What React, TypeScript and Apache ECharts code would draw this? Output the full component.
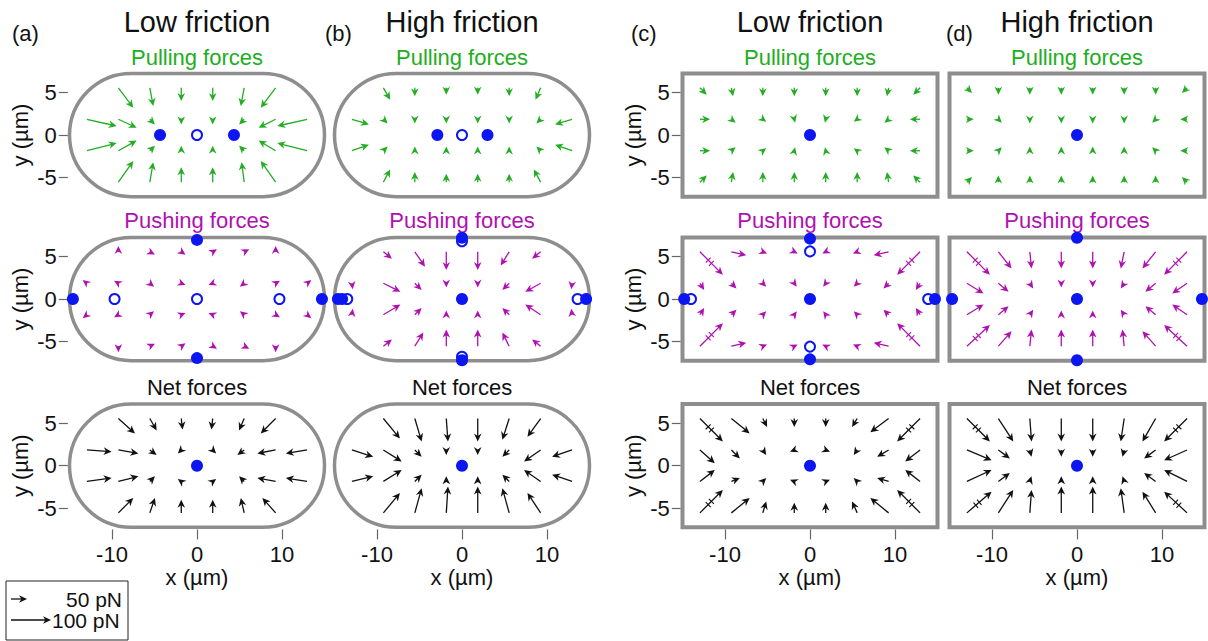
import React, { useEffect, useRef } from "react";
import * as echarts from "echarts";

// ---------- data ----------
const X_RANGE = 15.2;
const Y_RANGE = 7.5;
const CELL_HALF_LEN = 15.0;
const CELL_HALF_WID = 7.25;
const X_TICKS = [-10, 0, 10];
const Y_TICKS = [-5, 0, 5];
const GX8 = [-12.95, -9.25, -5.55, -1.85, 1.85, 5.55, 9.25, 12.95];
const GX6 = [-9.25, -5.55, -1.85, 1.85, 5.55, 9.25];
const GY = [5.55, 1.85, -1.85, -5.55];

const HEADERS = ["Low friction", "High friction", "Low friction", "High friction"];
const LETTERS = ["(a)", "(b)", "(c)", "(d)"];
const ROW_TITLES = ["Pulling forces", "Pushing forces", "Net forces"];

// arrow vectors [u, v, broken] in µm of plot, row-major (top row first)
const A_PULL = [
  [1.75, -2.35], [0.4, -2.15], [0, -1.55], [0, -1.55], [-0.4, -2.15], [-1.75, -2.35],
  [3.5, -0.8], [2.15, -1.0], [0.6, -0.6], [0, -0.6], [0, -0.6], [-0.6, -0.6], [-2.0, -1.0], [-3.5, -0.8],
  [3.5, 0.9], [2.15, 1.2], [0.6, 0.6], [0, 0.6], [0, 0.6], [-0.6, 0.6], [-2.0, 1.2], [-3.5, 0.9],
  [1.75, 2.5], [0.4, 2.35], [0, 1.75], [0, 1.75], [-0.3, 2.35], [-1.75, 2.5],
];
const B_PULL = [
  [0.8, -1.4], [0, -1.0], [0, -0.8], [0, -0.8], [0, -1.0], [-0.6, -1.4],
  [2.0, -0.6], [0.5, -0.5], [0, -0.5], [0, -0.5], [0, -0.5], [0, -0.5], [-0.5, -0.5], [-2.0, -0.6],
  [2.0, 0.7], [0.5, 0.5], [0, 0.5], [0, 0.5], [0, 0.5], [0, 0.5], [-0.5, 0.5], [-2.0, 0.7],
  [0.8, 1.5], [0, 1.2], [0, 1.0], [0, 1.0], [0, 1.0], [-0.8, 1.5],
];
const C_PULL = [
  [0.8, -0.8], [0.2, -1.0], [0, -1.0], [0, -1.0], [0, -1.0], [0, -1.0], [-0.2, -1.0], [-0.8, -0.8],
  [1.2, 0], [0.5, -0.4], [0.4, -0.3], [0.1, -0.4], [-0.1, -0.4], [-0.4, -0.3], [-0.5, -0.4], [-1.2, 0],
  [1.2, 0], [0.5, 0.4], [0.4, 0.3], [0.1, 0.4], [-0.1, 0.4], [-0.4, 0.3], [-0.5, 0.4], [-1.2, 0],
  [0.8, 0.8], [0.2, 1.2], [0, 1.2], [0, 1.2], [0, 1.2], [0, 1.2], [-0.2, 1.2], [-0.8, 0.8],
];
const D_PULL = [
  [0.6, -0.6], [0, -0.8], [0, -0.8], [0, -0.8], [0, -0.8], [0, -0.8], [0, -0.8], [-0.6, -0.6],
  [0.8, 0], [0.4, -0.4], [0, -0.5], [0, -0.5], [0, -0.5], [0, -0.5], [-0.4, -0.4], [-0.8, 0],
  [0.8, 0], [0.4, 0.4], [0, 0.5], [0, 0.5], [0, 0.5], [0, 0.5], [-0.4, 0.4], [-0.8, 0],
  [0.6, 0.6], [0, 0.8], [0, 0.8], [0, 0.8], [0, 0.8], [0, 0.8], [0, 0.8], [-0.6, 0.6],
];
const A_PUSH = [
  [0, 0.7], [0.6, -0.3], [0.5, -0.35], [0.5, 0.3], [0.6, 0.3], [0, 0.7],
  [-0.5, 0.4], [-0.5, 0.3], [0.5, -0.4], [0.5, -0.2], [-0.5, -0.2], [-0.5, -0.4], [0.5, 0.3], [0.5, 0.4],
  [-0.5, -0.4], [-0.5, -0.3], [0.5, 0.4], [0.5, 0.2], [-0.5, 0.2], [-0.5, 0.4], [0.5, -0.3], [0.5, -0.4],
  [0, -0.7], [0.6, 0.3], [0.5, 0.35], [0.5, -0.3], [0.6, -0.3], [0, -0.7],
];
const B_PUSH = [
  [1.0, -0.8], [1.2, -1.75], [0, -2.15], [0, -2.15], [-1.0, -1.6], [-1.0, -0.8],
  [0.1, -0.7], [2.0, -1.0], [0.8, -0.8], [0, -0.5], [0, -0.5], [-0.8, -0.8], [-1.8, -1.0], [-0.1, -0.7],
  [0.1, 0.7], [2.0, 1.2], [0.8, 0.8], [0, 0.5], [0, 0.5], [-0.8, 0.8], [-1.8, 1.2], [-0.1, 0.7],
  [1.0, 0.8], [1.0, 1.6], [0, 1.95], [0, 1.95], [-0.8, 1.6], [-1.0, 0.8],
];
const C_PUSH = [
  [2.7, -2.7, 1], [1.75, -0.4], [0.5, -0.2], [0.4, -0.2], [-0.4, -0.2], [-0.5, -0.2], [-1.75, -0.4], [-2.7, -2.7, 1],
  [0.5, -0.8], [0.6, -0.6], [0.4, -0.4], [0.3, -0.4], [-0.3, -0.4], [-0.4, -0.4], [-0.6, -0.6], [-0.5, -0.8],
  [0.5, 0.8], [0.6, 0.6], [0.4, 0.4], [0.3, 0.4], [-0.3, 0.4], [-0.4, 0.4], [-0.6, 0.6], [-0.5, 0.8],
  [2.7, 2.7, 1], [1.75, 0.4], [0.5, 0.2], [0.4, 0.2], [-0.4, 0.2], [-0.5, 0.2], [-1.75, 0.4], [-2.7, 2.7, 1],
];
const D_PUSH = [
  [2.7, -2.7, 1], [1.55, -1.95], [0.2, -1.95], [0, -1.95], [0, -1.95], [-0.4, -1.95], [-1.55, -1.95], [-2.7, -2.7, 1],
  [1.95, -1.2], [1.2, -1.0], [0.4, -0.6], [0, -0.5], [0, -0.5], [-0.4, -0.6], [-1.2, -1.0], [-1.75, -1.2],
  [1.95, 1.2], [1.2, 1.0], [0.4, 0.6], [0, 0.5], [0, 0.5], [-0.4, 0.6], [-1.2, 1.0], [-1.75, 1.2],
  [2.7, 2.5, 1], [1.55, 1.75], [0.2, 1.95], [0, 1.95], [0, 1.95], [-0.2, 1.95], [-1.55, 1.75], [-2.7, 2.5, 1],
];
const A_NET = [
  [1.95, -1.75], [0.8, -1.4], [0.15, -1.3], [-0.15, -1.3], [-0.6, -1.4], [-1.75, -1.75],
  [2.9, -0.2], [2.35, -0.4], [0.8, -0.6], [-0.4, -0.4], [0.4, -0.4], [-0.8, -0.6], [-2.15, -0.4], [-2.5, -0.4],
  [2.9, 0.4], [2.35, 0.6], [0.6, 0.6], [-0.4, 0.3], [0.4, 0.3], [-0.6, 0.6], [-2.15, 0.4], [-2.5, 0.4],
  [1.75, 1.75], [0.6, 1.75], [0, 1.55], [0, 1.55], [-0.4, 1.75], [-1.55, 1.75],
];
const B_NET = [
  [1.95, -2.35], [0.8, -2.7], [0.2, -2.7], [0, -2.7], [-0.8, -2.5], [-1.55, -2.15],
  [2.5, -0.8], [2.15, -1.35], [0.8, -0.8], [0, -0.6], [0, -0.6], [-0.8, -0.8], [-1.95, -1.35], [-2.35, -0.8],
  [2.5, 0.6], [2.15, 1.35], [0.8, 0.8], [0, 0.6], [0, 0.6], [-0.8, 0.8], [-1.95, 1.35], [-2.35, 0.8],
  [1.95, 2.35], [0.8, 2.9], [0.2, 3.1], [0, 3.1], [-0.8, 2.9], [-1.55, 2.35],
];
const C_NET = [
  [2.7, -2.7, 1], [2.15, -1.75], [0.5, -1.0], [0, -1.0], [0, -1.0], [-0.6, -1.0], [-2.15, -1.6], [-2.7, -2.7, 1],
  [1.75, -1.55], [1.0, -1.0], [0.4, -0.6], [-0.5, -0.2], [0.5, -0.2], [-0.4, -0.6], [-1.35, -0.8], [-1.75, -1.35],
  [1.75, 1.35], [1.0, 0.4], [0.4, 0.4], [-0.5, 0.2], [0.5, 0.2], [-0.4, 0.4], [-1.35, 0.4], [-1.75, 1.35],
  [2.7, 2.7, 1], [2.15, 1.75], [0.4, 1.35], [0, 1.2], [0, 1.2], [-0.6, 1.35], [-2.15, 1.75], [-2.7, 2.7, 1],
];
const D_NET = [
  [2.7, -2.7, 1], [1.75, -2.7], [0.2, -2.7], [0, -2.7], [0, -2.7], [-0.4, -2.7], [-1.55, -2.7], [-2.7, -2.7, 1],
  [2.9, -1.2], [1.35, -1.0], [0.2, -0.8], [0, -0.8], [0, -0.8], [-0.2, -0.8], [-1.35, -1.0], [-2.7, -1.2],
  [2.9, 1.35], [1.35, 1.0], [0.2, 0.6], [0, 0.6], [0, 0.6], [-0.2, 0.6], [-1.35, 1.0], [-2.7, 1.35],
  [2.9, 2.5, 1], [1.75, 2.7], [0.2, 2.7], [0, 3.1], [0, 3.1], [-0.4, 2.9], [-1.55, 2.5], [-2.7, 2.5, 1],
];

// centrosome markers
const A_PULL_FILLED = [[-4.35, 0], [4.35, 0]];
const A_PULL_OPEN = [[0, 0]];
const B_PULL_FILLED = [[-2.9, 0], [3.0, 0]];
const B_PULL_OPEN = [[0, 0]];
const A_PUSH_FILLED = [[0, 6.95], [0, -6.95], [-14.6, 0], [14.7, 0]];
const A_PUSH_OPEN = [[-9.7, 0], [0, 0], [9.7, 0]];
const B_PUSH_FILLED = [[0, 7.2], [0, -7.2], [0, 0], [-14.6, 0], [-14.1, 0], [14.6, 0]];
const B_PUSH_OPEN = [[0, 6.8], [0, -6.8], [-13.5, 0], [13.6, 0]];
const C_PUSH_FILLED = [[0, 7.1], [0, -7.1], [0, 0], [-14.8, 0], [14.7, 0]];
const C_PUSH_OPEN = [[0, 5.6], [0, -5.6], [-14.0, 0], [13.9, 0]];
const D_PUSH_FILLED = [[0, 7.2], [0, -7.2], [0, 0], [-14.7, 0], [14.7, 0]];
const CENTER_FILLED = [[0, 0]];

// ---------- styles / layout ----------
const FONT = '"Liberation Sans", Arial, sans-serif';
const GREEN = "#22ad22";
const MAGENTA = "#b010b0";
const BLACK = "#111111";
const BLUE = "#0b16f0";
const CELL_GRAY = "#8e8e8e";
const COL_CENTER = [197, 462, 810, 1077];
const ROW_ZERO = [135, 299, 465.7];
const PX_PER_UM = 8.5;
const ROW_COLORS = [GREEN, MAGENTA, BLACK];
const HEAD_LEN = 8;
const HEAD_HALF_W = 3.8;

function placeArrows(vecs: number[][], stadium: boolean) {
  const out: number[][] = [];
  let k = 0;
  GY.forEach((y, r) => {
    const xs = stadium && (r === 0 || r === 3) ? GX6 : GX8;
    xs.forEach((x) => {
      const v = vecs[k++];
      out.push([x, y, v[0], v[1], v[2] || 0]);
    });
  });
  return out;
}

const PANELS = [
  { col: 0, row: 0, vec: A_PULL, filled: A_PULL_FILLED, open: A_PULL_OPEN },
  { col: 1, row: 0, vec: B_PULL, filled: B_PULL_FILLED, open: B_PULL_OPEN },
  { col: 2, row: 0, vec: C_PULL, filled: CENTER_FILLED, open: [] },
  { col: 3, row: 0, vec: D_PULL, filled: CENTER_FILLED, open: [] },
  { col: 0, row: 1, vec: A_PUSH, filled: A_PUSH_FILLED, open: A_PUSH_OPEN },
  { col: 1, row: 1, vec: B_PUSH, filled: B_PUSH_FILLED, open: B_PUSH_OPEN },
  { col: 2, row: 1, vec: C_PUSH, filled: C_PUSH_FILLED, open: C_PUSH_OPEN },
  { col: 3, row: 1, vec: D_PUSH, filled: D_PUSH_FILLED, open: [] },
  { col: 0, row: 2, vec: A_NET, filled: CENTER_FILLED, open: [] },
  { col: 1, row: 2, vec: B_NET, filled: CENTER_FILLED, open: [] },
  { col: 2, row: 2, vec: C_NET, filled: CENTER_FILLED, open: [] },
  { col: 3, row: 2, vec: D_NET, filled: CENTER_FILLED, open: [] },
];

function headPoints(tx: number, ty: number, ux: number, uy: number, H: number, W: number) {
  const nx = -uy, ny = ux;
  const bx = tx - ux * H, by = ty - uy * H;
  const mx = tx - ux * H * 0.7, my = ty - uy * H * 0.7;
  return [[tx, ty], [bx + nx * W, by + ny * W], [mx, my], [bx - nx * W, by - ny * W]];
}

function makeArrowRenderer(color: string) {
  return (_params: any, api: any) => {
    const x = api.value(0), y = api.value(1), u = api.value(2), v = api.value(3), br = api.value(4);
    const p0 = api.coord([x, y]);
    const p1 = api.coord([x + u, y + v]);
    const dx = p1[0] - p0[0], dy = p1[1] - p0[1];
    const len = Math.hypot(dx, dy) || 1;
    const ux = dx / len, uy = dy / len;
    const H = HEAD_LEN, W = HEAD_HALF_W;
    const children: any[] = [];
    if (len > H * 0.7) {
      children.push({
        type: "line",
        shape: { x1: p0[0], y1: p0[1], x2: p1[0] - ux * H * 0.6, y2: p1[1] - uy * H * 0.6 },
        style: { stroke: color, lineWidth: 1.3 },
      });
    }
    children.push({ type: "polygon", shape: { points: headPoints(p1[0], p1[1], ux, uy, H, W) }, style: { fill: color } });
    if (br) {
      [0.36, 0.5].forEach((t) => {
        const cx = p0[0] + dx * t, cy = p0[1] + dy * t;
        children.push({
          type: "line",
          shape: { x1: cx - uy * 3.5, y1: cy + ux * 3.5, x2: cx + uy * 3.5, y2: cy - ux * 3.5 },
          style: { stroke: color, lineWidth: 1.1 },
        });
      });
    }
    return { type: "group", children };
  };
}

function makeCellRenderer(stadium: boolean) {
  return (_params: any, api: any) => {
    const tl = api.coord([-CELL_HALF_LEN, CELL_HALF_WID]);
    const brc = api.coord([CELL_HALF_LEN, -CELL_HALF_WID]);
    const h = brc[1] - tl[1];
    return {
      type: "rect",
      shape: { x: tl[0], y: tl[1], width: brc[0] - tl[0], height: h, r: stadium ? h / 2 : 0 },
      style: { fill: "none", stroke: CELL_GRAY, lineWidth: stadium ? 3.5 : 4 },
    };
  };
}

function buildOption() {
  const grid: any[] = [];
  const xAxis: any[] = [];
  const yAxis: any[] = [];
  const series: any[] = [];
  const tickStyle = { color: "#666", width: 1.2 };
  const labelStyle = { fontFamily: FONT, fontSize: 22, color: BLACK };

  PANELS.forEach((p, i) => {
    const stadium = p.col < 2;
    const color = ROW_COLORS[p.row];
    grid.push({
      left: COL_CENTER[p.col] - X_RANGE * PX_PER_UM,
      top: ROW_ZERO[p.row] - Y_RANGE * PX_PER_UM,
      width: 2 * X_RANGE * PX_PER_UM,
      height: 2 * Y_RANGE * PX_PER_UM,
    });
    const showX = p.row === 2;
    const showY = p.col === 0 || p.col === 2;
    xAxis.push({
      type: "value", gridIndex: i, min: -X_RANGE, max: X_RANGE, show: showX, position: "bottom",
      axisLine: { show: false, onZero: false }, splitLine: { show: false },
      axisTick: { show: true, length: 10, customValues: X_TICKS, lineStyle: tickStyle },
      axisLabel: { customValues: X_TICKS, margin: 14, ...labelStyle },
      name: "x (µm)", nameLocation: "middle", nameGap: 37,
      nameTextStyle: labelStyle,
    });
    yAxis.push({
      type: "value", gridIndex: i, min: -Y_RANGE, max: Y_RANGE, show: showY, position: "left",
      axisLine: { show: false, onZero: false }, splitLine: { show: false },
      axisTick: { show: true, length: 9, customValues: Y_TICKS, lineStyle: tickStyle },
      axisLabel: { customValues: Y_TICKS, margin: 11, ...labelStyle },
      name: "y (µm)", nameLocation: "middle", nameGap: 36, nameRotate: 90,
      nameTextStyle: labelStyle,
    });
    series.push({
      type: "custom", xAxisIndex: i, yAxisIndex: i, silent: true, clip: false, z: 1,
      data: [[0, 0]], renderItem: makeCellRenderer(stadium),
    });
    series.push({
      type: "custom", xAxisIndex: i, yAxisIndex: i, silent: true, clip: false, z: 2,
      data: placeArrows(p.vec, stadium), renderItem: makeArrowRenderer(color),
    });
    if (p.open.length) {
      series.push({
        type: "scatter", xAxisIndex: i, yAxisIndex: i, silent: true, z: 3,
        data: p.open, symbol: "circle", symbolSize: 10,
        itemStyle: { color: "#ffffff", borderColor: BLUE, borderWidth: 2, opacity: 1 },
      });
    }
    series.push({
      type: "scatter", xAxisIndex: i, yAxisIndex: i, silent: true, z: 4,
      data: p.filled, symbol: "circle", symbolSize: 12,
      itemStyle: { color: BLUE, opacity: 1 },
    });
  });

  const graphic: any[] = [];
  HEADERS.forEach((t, c) => {
    graphic.push({ type: "text", x: COL_CENTER[c], y: 22, style: { text: t, font: `29px ${FONT}`, fill: BLACK, align: "center", verticalAlign: "middle" } });
  });
  const letterX = [12, 325, 631, 946];
  LETTERS.forEach((t, c) => {
    graphic.push({ type: "text", x: letterX[c], y: 33, style: { text: t, font: `22px ${FONT}`, fill: BLACK, align: "left", verticalAlign: "middle" } });
  });
  const titleY = [57, 220, 387];
  ROW_TITLES.forEach((t, r) => {
    COL_CENTER.forEach((cx) => {
      graphic.push({ type: "text", x: cx, y: titleY[r], style: { text: t, font: `22px ${FONT}`, fill: ROW_COLORS[r], align: "center", verticalAlign: "middle" } });
    });
  });
  // key box
  graphic.push({ type: "rect", shape: { x: 6, y: 581, width: 122, height: 59 }, style: { fill: "#fff", stroke: "#222", lineWidth: 1 } });
  const keyArrows = [
    { x0: 11, x1: 27, y: 599, label: "50 pN", lx: 66 },
    { x0: 11, x1: 51, y: 620, label: "100 pN", lx: 52 },
  ];
  keyArrows.forEach((k) => {
    graphic.push({ type: "line", shape: { x1: k.x0, y1: k.y, x2: k.x1 - 4, y2: k.y }, style: { stroke: BLACK, lineWidth: 1.3 } });
    graphic.push({ type: "polygon", shape: { points: headPoints(k.x1, k.y, 1, 0, HEAD_LEN, HEAD_HALF_W) }, style: { fill: BLACK } });
    graphic.push({ type: "text", x: k.lx, y: k.y, style: { text: k.label, font: `21px ${FONT}`, fill: BLACK, align: "left", verticalAlign: "middle" } });
  });

  return { animation: false, backgroundColor: "#ffffff", grid, xAxis, yAxis, series, graphic };
}

export default function App() {
  const ref = useRef<HTMLDivElement>(null);
  useEffect(() => {
    if (!ref.current) return;
    const chart = echarts.init(ref.current, undefined, { renderer: "svg" });
    chart.setOption(buildOption() as any);
    return () => chart.dispose();
  }, []);
  return <div ref={ref} style={{ position: "fixed", left: 0, top: 0, width: 1208, height: 641 }} />;
}
